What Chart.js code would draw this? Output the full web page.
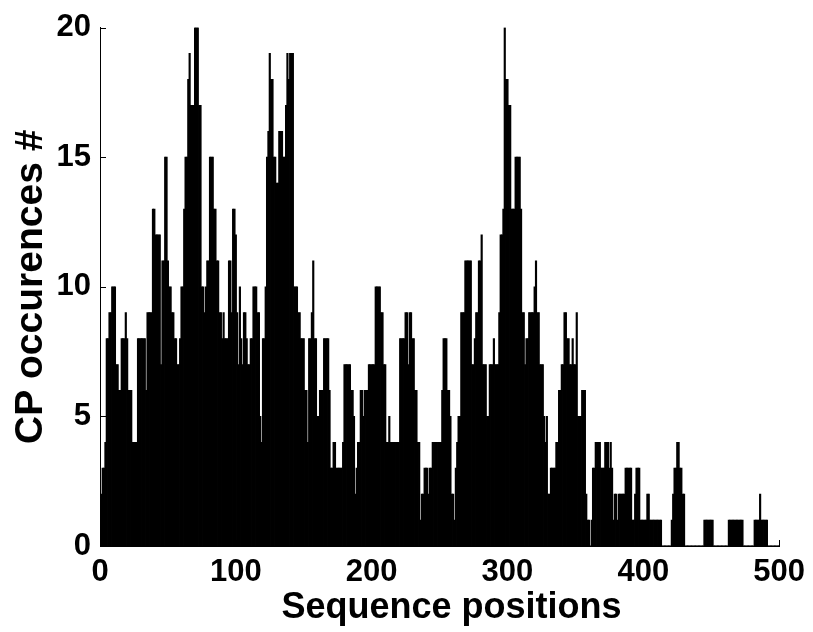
<!DOCTYPE html>
<html>
<head>
<meta charset="utf-8">
<script src="https://cdn.jsdelivr.net/npm/chart.js@4/dist/chart.umd.min.js"></script>
<style>
  html, body { margin: 0; padding: 0; background: #ffffff; }
  #wrap { width: 813px; height: 632px; }
</style>
</head>
<body>
<div id="wrap"><canvas id="c" width="813" height="632"></canvas></div>
<script>
// CP occurrence counts per sequence position (positions 1..500)
const counts001to100 = [
  2,3,3,4,8,8,9,9,10,10,
  10,7,7,6,6,8,8,8,9,8,
  6,6,6,4,4,4,4,8,8,8,
  8,8,8,6,9,9,9,9,13,13,
  12,12,12,12,7,11,11,15,15,11,
  10,10,9,9,8,8,7,7,8,10,
  10,13,15,15,18,19,17,17,17,20,
  20,20,17,17,10,10,9,10,11,11,
  15,15,15,13,13,11,11,9,9,8,
  9,8,8,8,11,11,9,13,13,12
];
const counts101to200 = [
  9,7,10,8,7,9,9,8,7,7,
  8,8,10,10,10,9,9,5,4,8,
  8,10,15,16,19,18,18,15,15,14,
  14,16,16,16,15,15,17,19,18,19,
  19,19,10,10,10,9,9,8,8,8,
  6,6,4,8,8,9,11,8,8,5,
  5,6,6,6,8,8,8,8,6,3,
  3,4,4,3,3,3,3,3,4,7,
  7,7,7,7,6,6,5,2,3,4,
  4,6,6,5,6,6,6,7,7,7
];
const counts201to300 = [
  7,7,10,10,10,10,9,9,7,7,
  4,4,5,4,4,4,4,4,4,4,
  8,8,8,8,9,9,7,9,9,8,
  8,6,6,4,4,1,2,2,3,3,
  3,2,3,3,4,4,4,4,4,4,
  4,6,8,8,8,6,6,5,2,2,
  1,3,4,5,5,9,9,9,11,11,
  11,11,11,7,7,8,9,9,11,11,
  12,7,7,7,5,5,7,7,7,8,
  7,7,7,9,12,12,13,20,18,18
];
const counts301to400 = [
  17,17,13,13,13,15,15,15,15,13,
  9,9,7,8,8,9,9,9,9,10,
  11,9,9,7,7,7,5,4,5,2,
  2,3,3,3,3,4,4,6,6,7,
  7,9,9,8,8,7,7,8,7,7,
  9,5,5,5,6,6,6,2,1,1,
  0,1,3,3,4,4,4,4,3,3,
  3,4,4,4,3,4,3,1,2,2,
  1,2,2,2,2,2,3,3,3,3,
  3,1,1,2,3,3,3,1,1,1
];
const counts401to500 = [
  1,1,2,2,1,1,1,1,1,1,
  1,1,1,0,0,0,0,0,0,0,
  1,2,3,3,4,4,3,3,2,2,
  0,0,0,0,0,0,0,0,0,0,
  0,0,0,0,1,1,1,1,1,1,
  1,0,0,0,0,0,0,0,0,0,
  0,0,1,1,1,1,1,1,1,1,
  1,1,1,0,0,0,0,0,0,0,
  0,1,1,1,1,2,1,1,1,1,
  1,0,0,0,0,0,0,0,0,0
];
const xTickValues = [0, 100, 200, 300, 400, 500];
const yTickValues = [0, 5, 10, 15, 20];
const xAxisTitle = 'Sequence positions';
const yAxisTitle = 'CP occurences #';

const counts = [].concat(counts001to100, counts101to200, counts201to300, counts301to400, counts401to500);
const positions = counts.map((_, i) => i + 1);
const points = positions.map((p, i) => ({ x: p, y: counts[i] }));

const FONT = "'Liberation Sans', Arial, Helvetica, sans-serif";

const innerTicks = {
  id: 'innerTicks',
  afterDraw(chart) {
    const { ctx, scales: { x, y }, chartArea: a } = chart;
    ctx.save();
    ctx.strokeStyle = '#000';
    ctx.lineWidth = 1;
    ctx.beginPath();
    yTickValues.forEach(v => {
      const py = Math.round(y.getPixelForValue(v)) + 0.5;
      ctx.moveTo(a.left, py); ctx.lineTo(a.left + 6, py);
    });
    xTickValues.forEach(v => {
      const px = Math.round(x.getPixelForValue(v)) + 0.5;
      ctx.moveTo(px, a.bottom); ctx.lineTo(px, a.bottom - 6);
    });
    ctx.stroke();
    // x-axis title, sitting slightly right of the plot centre as in the original figure
    ctx.fillStyle = '#000';
    ctx.font = 'bold 36px ' + FONT;
    ctx.textAlign = 'center';
    ctx.textBaseline = 'middle';
    ctx.fillText(xAxisTitle, (x.left + x.right) / 2 + 12, 608);
    ctx.restore();
  }
};

new Chart(document.getElementById('c'), {
  type: 'bar',
  data: {
    datasets: [{
      data: points,
      backgroundColor: '#000000',
      borderWidth: 0,
      barPercentage: 1,
      categoryPercentage: 1,
      inflateAmount: 0.4
    }]
  },
  options: {
    responsive: false,
    animation: false,
    events: [],
    layout: { padding: { top: 25, right: 31, left: 0, bottom: 0 } },
    plugins: { legend: { display: false }, tooltip: { enabled: false } },
    scales: {
      x: {
        type: 'linear',
        min: 0, max: 500,
        offset: false,
        afterBuildTicks: s => { s.ticks = xTickValues.map(v => ({ value: v })); },
        afterFit: s => { s.height = 86; },
        grid: { display: false, drawTicks: false, offset: false },
        border: { display: true, color: '#000', width: 1 },
        ticks: { color: '#000', font: { family: FONT, size: 31, weight: 'bold' }, padding: 8, maxRotation: 0, autoSkip: false },
        title: { display: false, text: xAxisTitle }
      },
      y: {
        type: 'linear',
        min: 0, max: 20,
        afterBuildTicks: s => { s.ticks = yTickValues.map(v => ({ value: v })); },
        afterFit: s => { s.width = 100; },
        grid: { display: false, drawTicks: false },
        border: { display: true, color: '#000', width: 1 },
        ticks: { color: '#000', font: { family: FONT, size: 31, weight: 'bold' }, padding: 9 },
        title: { display: true, text: yAxisTitle, color: '#000', font: { family: FONT, size: 39, weight: 'bold' }, padding: { top: 8, bottom: 0 } }
      }
    }
  },
  plugins: [innerTicks]
});
</script>
</body>
</html>
